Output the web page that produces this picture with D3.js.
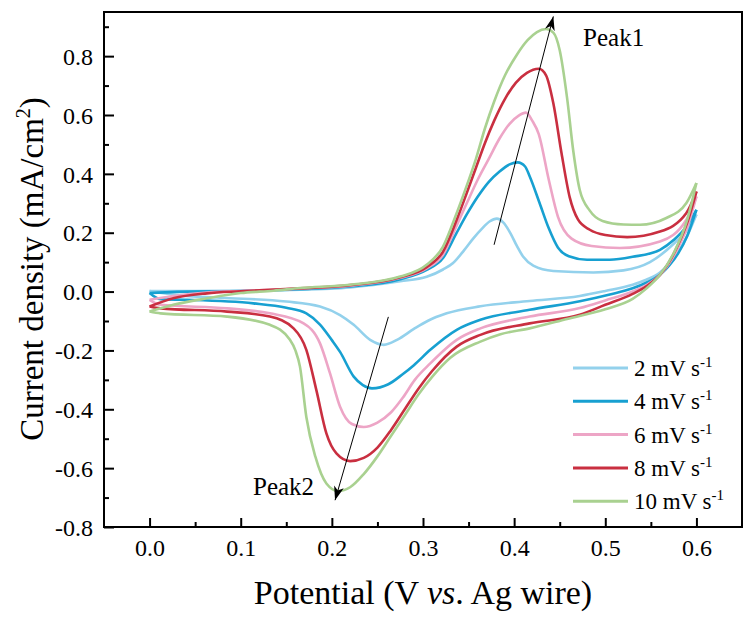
<!DOCTYPE html>
<html>
<head>
<meta charset="utf-8">
<script src="https://cdn.jsdelivr.net/npm/d3@7"></script>
<style>
  body { margin: 0; background: #fff; }
  svg text { font-family: "Liberation Serif", "Times New Roman", serif; fill: #000; }
</style>
</head>
<body>
<div id="vis"></div>
<script>
// CV curves: [potential (V), current density (mA/cm2)]
// Fwd = anodic sweep 0 -> 0.6 V, Rev = cathodic sweep 0.6 -> 0 V
var scan2Fwd = [[0.000,0.002],[0.050,0.002],[0.100,0.003],[0.165,0.006],[0.220,0.014],[0.275,0.035],[0.304,0.050],[0.322,0.075],[0.333,0.097],[0.345,0.140],[0.355,0.180],[0.365,0.215],[0.373,0.238],[0.381,0.248],[0.388,0.235],[0.396,0.198],[0.403,0.155],[0.410,0.118],[0.421,0.088],[0.443,0.070],[0.487,0.065],[0.520,0.072],[0.549,0.100],[0.576,0.165],[0.590,0.210],[0.600,0.262]];
var scan2Rev = [[0.600,0.262],[0.590,0.190],[0.580,0.135],[0.570,0.095],[0.560,0.065],[0.545,0.040],[0.530,0.023],[0.500,0.002],[0.472,-0.015],[0.417,-0.032],[0.363,-0.050],[0.326,-0.074],[0.305,-0.100],[0.290,-0.127],[0.272,-0.163],[0.257,-0.181],[0.242,-0.164],[0.224,-0.113],[0.209,-0.080],[0.187,-0.051],[0.150,-0.034],[0.077,-0.021],[0.030,-0.012],[0.000,0.002]];

var scan4Fwd = [[0.000,-0.005],[0.030,-0.001],[0.100,0.002],[0.165,0.008],[0.220,0.017],[0.275,0.042],[0.304,0.074],[0.322,0.114],[0.337,0.200],[0.348,0.262],[0.360,0.322],[0.372,0.372],[0.384,0.408],[0.395,0.432],[0.404,0.439],[0.412,0.425],[0.417,0.392],[0.428,0.300],[0.438,0.215],[0.448,0.150],[0.460,0.120],[0.480,0.108],[0.505,0.108],[0.530,0.118],[0.560,0.142],[0.575,0.175],[0.589,0.221],[0.600,0.278]];
var scan4Rev = [[0.600,0.278],[0.590,0.190],[0.580,0.130],[0.570,0.088],[0.560,0.057],[0.545,0.030],[0.530,0.011],[0.505,-0.010],[0.472,-0.033],[0.417,-0.062],[0.363,-0.096],[0.337,-0.130],[0.308,-0.198],[0.290,-0.250],[0.278,-0.280],[0.262,-0.315],[0.244,-0.329],[0.234,-0.318],[0.224,-0.289],[0.209,-0.205],[0.200,-0.165],[0.187,-0.112],[0.172,-0.074],[0.150,-0.055],[0.114,-0.040],[0.041,-0.028],[0.012,-0.026],[0.000,-0.005]];

var scan6Fwd = [[0.000,-0.028],[0.026,-0.015],[0.063,-0.003],[0.100,0.002],[0.165,0.010],[0.220,0.020],[0.275,0.047],[0.304,0.079],[0.322,0.125],[0.337,0.225],[0.348,0.300],[0.360,0.380],[0.372,0.450],[0.384,0.520],[0.395,0.570],[0.405,0.598],[0.413,0.608],[0.420,0.580],[0.427,0.535],[0.438,0.380],[0.448,0.255],[0.463,0.180],[0.485,0.155],[0.516,0.148],[0.560,0.170],[0.589,0.244],[0.600,0.323]];
var scan6Rev = [[0.600,0.323],[0.590,0.220],[0.580,0.150],[0.570,0.095],[0.560,0.057],[0.545,0.022],[0.530,0.000],[0.500,-0.030],[0.472,-0.056],[0.417,-0.085],[0.363,-0.125],[0.337,-0.164],[0.308,-0.244],[0.291,-0.300],[0.278,-0.360],[0.265,-0.410],[0.250,-0.445],[0.235,-0.460],[0.222,-0.450],[0.209,-0.391],[0.198,-0.278],[0.187,-0.176],[0.169,-0.108],[0.132,-0.074],[0.085,-0.057],[0.012,-0.045],[0.000,-0.028]];

var scan8Fwd = [[0.000,-0.051],[0.026,-0.023],[0.063,-0.006],[0.100,0.001],[0.165,0.011],[0.220,0.022],[0.275,0.049],[0.304,0.083],[0.322,0.136],[0.337,0.244],[0.348,0.335],[0.358,0.420],[0.368,0.505],[0.378,0.580],[0.390,0.655],[0.402,0.710],[0.414,0.743],[0.427,0.757],[0.435,0.735],[0.443,0.640],[0.452,0.470],[0.461,0.320],[0.470,0.245],[0.483,0.210],[0.500,0.192],[0.524,0.185],[0.560,0.204],[0.589,0.267],[0.600,0.340]];
var scan8Rev = [[0.600,0.340],[0.590,0.235],[0.580,0.160],[0.570,0.100],[0.560,0.057],[0.545,0.018],[0.530,-0.008],[0.500,-0.045],[0.472,-0.079],[0.417,-0.108],[0.363,-0.147],[0.337,-0.187],[0.310,-0.270],[0.295,-0.330],[0.280,-0.400],[0.265,-0.470],[0.250,-0.530],[0.235,-0.565],[0.220,-0.576],[0.205,-0.550],[0.194,-0.482],[0.183,-0.335],[0.172,-0.198],[0.158,-0.125],[0.132,-0.085],[0.085,-0.068],[0.012,-0.057],[0.000,-0.051]];

var scan10Fwd = [[0.000,-0.068],[0.026,-0.045],[0.063,-0.023],[0.100,-0.005],[0.136,0.003],[0.165,0.012],[0.220,0.023],[0.275,0.051],[0.304,0.091],[0.322,0.153],[0.337,0.267],[0.348,0.360],[0.358,0.450],[0.368,0.555],[0.378,0.645],[0.390,0.735],[0.403,0.805],[0.415,0.855],[0.425,0.882],[0.435,0.892],[0.443,0.880],[0.450,0.820],[0.458,0.660],[0.465,0.475],[0.472,0.345],[0.483,0.275],[0.497,0.240],[0.520,0.228],[0.538,0.227],[0.567,0.250],[0.589,0.301],[0.600,0.369]];
var scan10Rev = [[0.600,0.369],[0.590,0.245],[0.575,0.130],[0.560,0.057],[0.545,0.010],[0.530,-0.025],[0.500,-0.060],[0.458,-0.093],[0.417,-0.125],[0.385,-0.145],[0.363,-0.170],[0.330,-0.225],[0.310,-0.290],[0.295,-0.350],[0.280,-0.420],[0.265,-0.490],[0.250,-0.560],[0.235,-0.620],[0.220,-0.665],[0.207,-0.678],[0.194,-0.652],[0.182,-0.562],[0.172,-0.426],[0.165,-0.255],[0.160,-0.200],[0.154,-0.164],[0.132,-0.113],[0.085,-0.085],[0.012,-0.074],[0.000,-0.068]];

var scanRates = ['2', '4', '6', '8', '10'];
var xTicks = [0.0, 0.1, 0.2, 0.3, 0.4, 0.5, 0.6];
var yTicks = [-0.8, -0.6, -0.4, -0.2, 0.0, 0.2, 0.4, 0.6, 0.8];

// peak shift arrows, [start, tip]
var peak1Arrow = [[0.378, 0.159], [0.443, 0.935]];
var peak2Arrow = [[0.262, -0.086], [0.2035, -0.709]];

var series = [
  { rate: scanRates[0], fwd: scan2Fwd, rev: scan2Rev },
  { rate: scanRates[1], fwd: scan4Fwd, rev: scan4Rev },
  { rate: scanRates[2], fwd: scan6Fwd, rev: scan6Rev },
  { rate: scanRates[3], fwd: scan8Fwd, rev: scan8Rev },
  { rate: scanRates[4], fwd: scan10Fwd, rev: scan10Rev }
];

var width = 743;
var height = 617;
var serif = '"Liberation Serif", "Times New Roman", serif';

var x = d3.scaleLinear().domain([-0.05, 0.65]).range([104, 742]);
var y = d3.scaleLinear().domain([-0.8, 0.95]).range([527, 12]);

var color = d3.scaleOrdinal()
  .domain(scanRates)
  .range(['#93d1ec', '#17a0d1', '#eda5c6', '#c92f40', '#a9d190']);

// tick labels use a plain hyphen, like the original
function fmt(d) {
  return d3.format('.1f')(d).replace('\u2212', '-');
}

var svg = d3.select('#vis').append('svg')
  .attr('width', width)
  .attr('height', height)
  .style('background', '#fff');

svg.append('defs').append('marker')
  .attr('id', 'head')
  .attr('markerUnits', 'userSpaceOnUse')
  .attr('viewBox', '0 0 14 10')
  .attr('refX', 14)
  .attr('refY', 5)
  .attr('markerWidth', 14)
  .attr('markerHeight', 10)
  .attr('orient', 'auto')
  .append('path')
  .attr('d', 'M0,0 L14,5 L0,10 L4,5 Z')
  .attr('fill', '#000');

// curves
var line = d3.line()
  .x(function (d) { return x(d[0]); })
  .y(function (d) { return y(d[1]); })
  .curve(d3.curveMonotoneX);

var curves = svg.append('g');
series.forEach(function (s) {
  var rev = s.rev.slice().sort(function (a, b) { return a[0] - b[0]; });
  [s.fwd, rev].forEach(function (branch) {
    curves.append('path')
      .attr('d', line(branch))
      .attr('fill', 'none')
      .attr('stroke', color(s.rate))
      .attr('stroke-width', 2.6)
      .attr('stroke-linejoin', 'round');
  });
});

// axes
function styleAxis(g) {
  g.select('.domain').remove();
  g.selectAll('.tick line').attr('stroke', '#000').attr('stroke-width', 2);
  g.selectAll('.tick text')
    .style('font-family', serif)
    .style('font-size', '24px');
}

var xMinor = d3.range(0.05, 0.6, 0.1);
var yMinor = d3.range(-0.7, 0.95, 0.2);

svg.append('g')
  .attr('transform', 'translate(0,527)')
  .call(d3.axisBottom(x).tickValues(xMinor).tickSize(-5).tickFormat(''))
  .call(styleAxis);

svg.append('g')
  .attr('transform', 'translate(0,527)')
  .call(d3.axisBottom(x).tickValues(xTicks).tickSize(-9).tickPadding(12).tickFormat(fmt))
  .call(styleAxis);

svg.append('g')
  .attr('transform', 'translate(104,0)')
  .call(d3.axisLeft(y).tickValues(yMinor).tickSize(-5).tickFormat(''))
  .call(styleAxis);

svg.append('g')
  .attr('transform', 'translate(104,0)')
  .call(d3.axisLeft(y).tickValues(yTicks).tickSize(-10).tickPadding(11).tickFormat(fmt))
  .call(styleAxis)
  .selectAll('.tick text').attr('dy', '0.34em');

svg.append('rect')
  .attr('x', 104)
  .attr('y', 12)
  .attr('width', 742 - 104)
  .attr('height', 527 - 12)
  .attr('fill', 'none')
  .attr('stroke', '#000')
  .attr('stroke-width', 2);

// axis titles
var xTitle = svg.append('text')
  .attr('x', 423)
  .attr('y', 604)
  .attr('text-anchor', 'middle')
  .attr('font-size', 34);
xTitle.append('tspan').text('Potential (V ');
xTitle.append('tspan').attr('font-style', 'italic').text('vs');
xTitle.append('tspan').text('. Ag wire)');

var yTitle = svg.append('text')
  .attr('transform', 'translate(43,269) rotate(-90)')
  .attr('text-anchor', 'middle')
  .attr('font-size', 33);
yTitle.append('tspan').text('Current density (mA/cm');
yTitle.append('tspan').attr('font-size', 20).attr('dy', -13).text('2');
yTitle.append('tspan').attr('dy', 13).text(')');

// peak arrows and labels
[peak1Arrow, peak2Arrow].forEach(function (a) {
  svg.append('line')
    .attr('x1', x(a[0][0])).attr('y1', y(a[0][1]))
    .attr('x2', x(a[1][0])).attr('y2', y(a[1][1]))
    .attr('stroke', '#000')
    .attr('stroke-width', 1)
    .attr('marker-end', 'url(#head)');
});

svg.append('text')
  .attr('x', x(0.4756)).attr('y', y(0.833))
  .attr('font-size', 25)
  .text('Peak1');

svg.append('text')
  .attr('x', x(0.1135)).attr('y', y(-0.692))
  .attr('font-size', 25)
  .text('Peak2');

// legend
var legend = svg.append('g').attr('transform', 'translate(573,368)');
var items = legend.selectAll('g')
  .data(series)
  .enter().append('g')
  .attr('transform', function (d, i) { return 'translate(0,' + (i * 33.3) + ')'; });

items.append('line')
  .attr('x1', 0).attr('x2', 55)
  .attr('stroke', function (d) { return color(d.rate); })
  .attr('stroke-width', 3);

var labels = items.append('text')
  .attr('x', 61)
  .attr('y', 8)
  .attr('font-size', 23);
labels.append('tspan').text(function (d) { return d.rate + ' mV s'; });
labels.append('tspan').attr('font-size', 15).attr('dy', -9).text('-1');
</script>
</body>
</html>
